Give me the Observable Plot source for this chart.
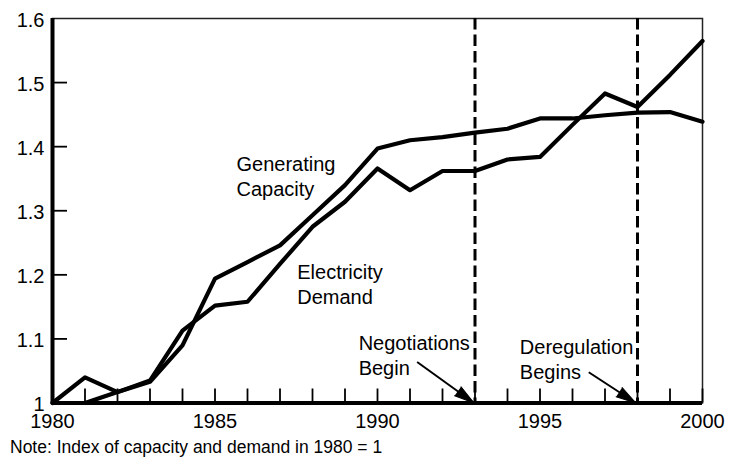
<!DOCTYPE html>
<html>
<head>
<meta charset="utf-8">
<script src="https://cdn.jsdelivr.net/npm/d3@7"></script>
<script src="https://cdn.jsdelivr.net/npm/@observablehq/plot@0.6"></script>
<style>
  html, body { margin: 0; padding: 0; background: #fff; }
  #wrap { position: relative; width: 738px; height: 468px; font-family: "Liberation Sans", Arial, Helvetica, sans-serif; }
  #note { position: absolute; left: 10px; top: 437px; font-size: 17.5px; line-height: 20px; color: #000; white-space: nowrap; }
</style>
</head>
<body>
<div id="wrap">
  <div id="chart"></div>
  <div id="note">Note: Index of capacity and demand in 1980 = 1</div>
</div>
<script>
// ---- data ----
const years = [1980,1981,1982,1983,1984,1985,1986,1987,1988,1989,1990,1991,1992,1993,1994,1995,1996,1997,1998,1999,2000];
const capacity = [1.0,1.0,1.017,1.033,1.09,1.194,1.22,1.246,1.293,1.34,1.397,1.41,1.415,1.422,1.428,1.444,1.444,1.449,1.453,1.454,1.439];
const demand = [1.0,1.04,1.017,1.035,1.113,1.152,1.158,1.217,1.275,1.314,1.366,1.332,1.362,1.362,1.38,1.384,1.434,1.483,1.462,1.512,1.565];
const yTickValues = [1, 1.1, 1.2, 1.3, 1.4, 1.5, 1.6];
const yInnerTicks = [1.1, 1.2, 1.3, 1.4, 1.5];
const xTickLabels = [1980, 1985, 1990, 1995, 2000];
const eventYears = [1993, 1998];
const labelTexts = ["Generating\nCapacity", "Electricity\nDemand", "Negotiations\nBegin", "Deregulation\nBegins"];
const labelX = [1985.66, 1987.53, 1989.42, 1994.38];
const labelY = [1.389, 1.221, 1.11, 1.104];
const arrowFromX = [1991.22, 1996.5];
const arrowFromY = [1.064, 1.048];
const arrowToX = [1992.97, 1997.95];
const arrowToY = [1.0, 1.0];

// ---- layout ----
const W = 738, H = 432;
const mL = 52, mR = 36, mT = 18, mB = 29.5;
const xDomain = [1980, 2000], yDomain = [1, 1.6];
const yTickLen = 15, xTickLen = 14;

const rows = [
  ...years.map((yr, i) => ({year: yr, value: capacity[i], series: "Generating Capacity"})),
  ...years.map((yr, i) => ({year: yr, value: demand[i], series: "Electricity Demand"}))
];
const labels = labelTexts.map((t, i) => ({text: t, x: labelX[i], y: labelY[i]}));

const sx = Plot.scale({x: {domain: xDomain, range: [mL, W - mR]}});
const sy = Plot.scale({y: {domain: yDomain, range: [H - mB, mT]}});
const arrows = arrowFromX.map((x1, i) => {
  const px1 = sx.apply(x1), py1 = sy.apply(arrowFromY[i]);
  const px2 = sx.apply(arrowToX[i]), py2 = sy.apply(arrowToY[i]);
  const angle = Math.atan2(px2 - px1, -(py2 - py1)) * 180 / Math.PI;
  return {x1, y1: arrowFromY[i], x2: arrowToX[i], y2: arrowToY[i], angle};
});
const yTickEnd = sx.invert(mL + yTickLen);
const xTickEnd = sy.invert(H - mB - xTickLen);
const yTickRows = yInnerTicks.map(v => ({v, a: xDomain[0], b: yTickEnd}));
const xTickRows = years.map(v => ({v, a: yDomain[0], b: xTickEnd}));

const chart = Plot.plot({
  width: W, height: H,
  marginLeft: mL, marginRight: mR, marginTop: mT, marginBottom: mB,
  style: {fontFamily: "'Liberation Sans', Arial, Helvetica, sans-serif", background: "white", color: "black"},
  x: {domain: xDomain},
  y: {domain: yDomain},
  marks: [
    Plot.frame({stroke: "#222", strokeWidth: 1.5}),
    Plot.ruleY(yTickRows, {y: "v", x1: "a", x2: "b", stroke: "black", strokeWidth: 1.8}),
    Plot.ruleX(xTickRows, {x: "v", y1: "a", y2: "b", stroke: "black", strokeWidth: 1.8}),
    Plot.ruleX(eventYears, {stroke: "black", strokeWidth: 3, strokeDasharray: "11.5,5"}),
    Plot.line(rows, {x: "year", y: "value", z: "series", stroke: "black", strokeWidth: 4.2, strokeLinejoin: "round"}),
    Plot.ruleX([xDomain[0]], {stroke: "black", strokeWidth: 4}),
    Plot.ruleY([yDomain[0]], {stroke: "black", strokeWidth: 4}),
    Plot.axisY(yTickValues, {tickSize: 0, tickPadding: 8, tickFormat: d => (d === 1 ? "1" : d.toFixed(1)), fontSize: 20, label: null, dy: 2}),
    Plot.axisX(xTickLabels, {tickSize: 0, tickPadding: 11, tickFormat: d => String(d), fontSize: 20, label: null}),
    Plot.text(labels, {x: "x", y: "y", text: "text", textAnchor: "start", lineAnchor: "top", fontSize: 20, lineHeight: 1.25, fill: "black"}),
    Plot.link(arrows, {x1: "x1", y1: "y1", x2: "x2", y2: "y2", stroke: "black", strokeWidth: 2}),
    Plot.vector(arrows, {x: "x2", y: "y2", rotate: "angle", length: 20, shape: "spike", r: 5.5, anchor: "end", fill: "black", stroke: "black", strokeWidth: 1})
  ]
});
document.getElementById("chart").appendChild(chart);
</script>
</body>
</html>
